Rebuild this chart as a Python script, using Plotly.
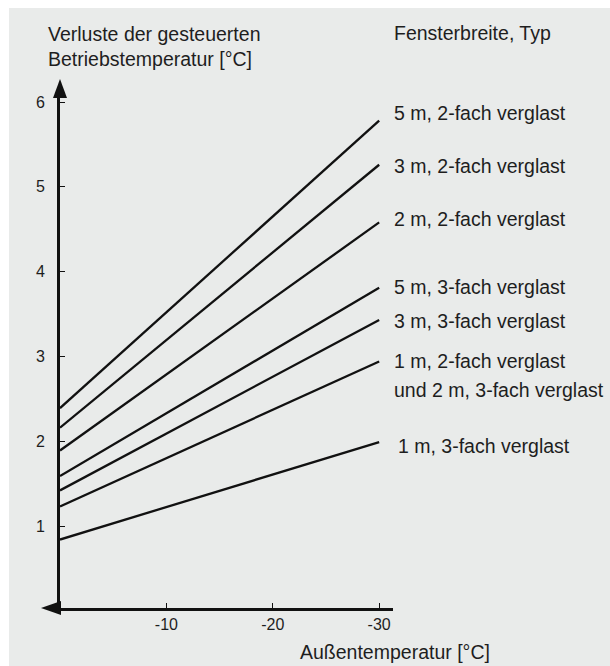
import plotly.graph_objects as go

# ---- data ----
temps = [0, -30]
series_names = [
    "5 m, 2-fach verglast",
    "3 m, 2-fach verglast",
    "2 m, 2-fach verglast",
    "5 m, 3-fach verglast",
    "3 m, 3-fach verglast",
    "1 m, 2-fach verglast",
    "1 m, 3-fach verglast",
]
series_values = [
    [2.39, 5.78],
    [2.16, 5.26],
    [1.89, 4.58],
    [1.59, 3.81],
    [1.42, 3.43],
    [1.23, 2.94],
    [0.84, 1.99],
]
x_ticks = [-10, -20, -30]
y_ticks = [1, 2, 3, 4, 5, 6]

# label texts and their vertical positions (data units)
label_texts = [
    "5 m, 2-fach verglast",
    "3 m, 2-fach verglast",
    "2 m, 2-fach verglast",
    "5 m, 3-fach verglast",
    "3 m, 3-fach verglast",
    "1 m, 2-fach verglast",
    "und 2 m, 3-fach verglast",
    "1 m, 3-fach verglast",
]
label_y = [5.87, 5.24, 4.62, 3.82, 3.42, 2.94, 2.60, 1.94]
label_xshift = [0, 0, 0, 0, 0, 0, 0, 4]

# ---- layout geometry (pixels) ----
W, H = 610, 666
L, R, T, B = 60, 217, 92, 58
PW = W - L - R
PH = H - T - B


def px(xp):
    return (xp - L) / PW


def py(yp):
    return (H - B - yp) / PH


FONT = "Liberation Sans, Arial, sans-serif"
TXT = "#1e1e1e"
FS = 19.5

fig = go.Figure()
for name, vals in zip(series_names, series_values):
    fig.add_trace(go.Scatter(
        x=temps, y=vals, mode="lines", name=name,
        line=dict(color="#111111", width=2.3),
        hoverinfo="name", showlegend=False,
    ))

annotations = []
for txt, yv, xs in zip(label_texts, label_y, label_xshift):
    annotations.append(dict(
        x=px(392), y=yv, xref="paper", yref="y", text=txt, showarrow=False,
        xanchor="left", yanchor="middle", xshift=xs,
        font=dict(family=FONT, size=FS, color=TXT),
    ))

# titles
for txt, xp, yp, anchor in [
    ("Verluste der gesteuerten", 46, 34, "left"),
    ("Betriebstemperatur [°C]", 46, 59, "left"),
    ("Fensterbreite, Typ", 392, 33, "left"),
    ("Außentemperatur [°C]", 395, 652, "center"),
]:
    annotations.append(dict(
        x=px(xp), y=py(yp), xref="paper", yref="paper", text=txt,
        showarrow=False, xanchor=anchor, yanchor="middle",
        font=dict(family=FONT, size=FS, color=TXT),
    ))

shapes = [
    # grey background panel
    dict(type="rect", xref="paper", yref="paper",
         x0=px(9), x1=px(W + 5), y0=py(8), y1=py(H + 5),
         fillcolor="#e9ebea", line=dict(width=0), layer="below"),
    # y-axis arrowhead
    dict(type="path", xref="paper", yref="paper",
         path=f"M {px(60)},{py(79)} L {px(53)},{py(98)} L {px(67)},{py(98)} Z",
         fillcolor="#111111", line=dict(width=0)),
    # x-axis arrowhead
    dict(type="path", xref="paper", yref="paper",
         path=f"M {px(41)},{py(608)} L {px(61)},{py(601)} L {px(61)},{py(615)} Z",
         fillcolor="#111111", line=dict(width=0)),
]

fig.update_layout(
    width=W, height=H,
    margin=dict(l=L, r=R, t=T, b=B, pad=0),
    paper_bgcolor="white",
    plot_bgcolor="rgba(0,0,0,0)",
    showlegend=False,
    annotations=annotations,
    shapes=shapes,
    xaxis=dict(
        range=[0, -31.3], tickvals=x_ticks, ticktext=[str(v) for v in x_ticks],
        showgrid=False, zeroline=False, showline=True, linecolor="#111111",
        linewidth=3, ticks="inside", ticklen=5, tickwidth=1, tickcolor="#111111",
        tickfont=dict(family=FONT, size=16, color=TXT),
    ),
    yaxis=dict(
        range=[0.033, 6.118], tickvals=y_ticks, ticktext=[str(v) for v in y_ticks],
        showgrid=False, zeroline=False, showline=True, linecolor="#111111",
        linewidth=3, ticks="inside", ticklen=5, tickwidth=1, tickcolor="#111111",
        tickfont=dict(family=FONT, size=16, color=TXT),
        ticklabelstandoff=9,
    ),
)

fig.write_html(
    "out.html",
    config={"displayModeBar": False},
    post_script="document.body.style.margin='0px';document.body.style.overflow='hidden';",
)
